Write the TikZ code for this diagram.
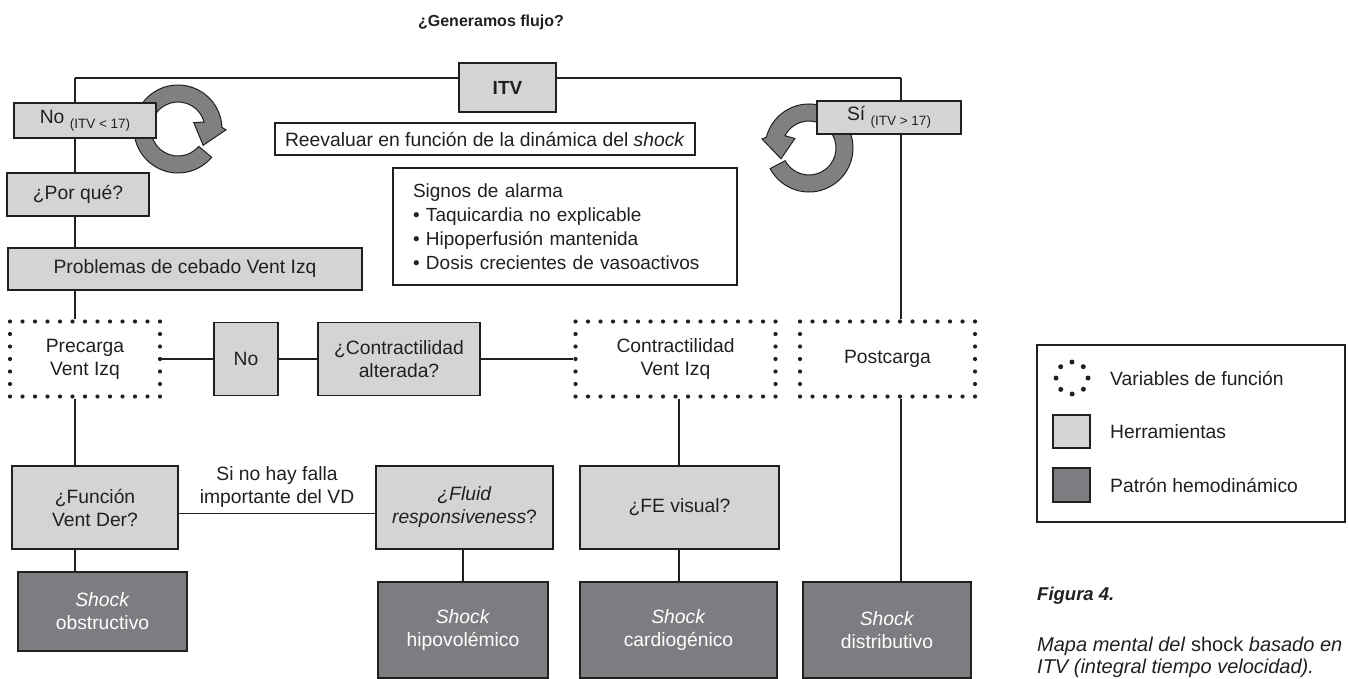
\documentclass[tikz,border=0pt]{standalone}
\usepackage{fontspec}
\setmainfont{Liberation Sans}
\usetikzlibrary{positioning, arrows.meta, backgrounds}

\definecolor{toolgray}{HTML}{D4D4D6}
\definecolor{patgray}{HTML}{7C7D80}
\definecolor{ringgray}{HTML}{808080}
\definecolor{inkgray}{HTML}{231F20}

\begin{document}
\begin{tikzpicture}[x=1pt, y=-1pt, >=Latex, text=inkgray,
  font=\fontsize{19.3}{23}\selectfont]

\tikzset{
  tool/.style={
    rectangle, draw=inkgray, line width=1.3pt, fill=toolgray,
    align=center, inner sep=2pt
  },
  hemo/.style={
    rectangle, draw=inkgray, line width=1.3pt, fill=patgray,
    text=white, align=center, inner sep=2pt
  },
  fvar/.style={
    rectangle, draw=inkgray, line width=4.2pt, line cap=round,
    dash pattern=on 0pt off 12.5pt, align=center, inner sep=2pt
  },
  note/.style={rectangle, draw=inkgray, line width=1.1pt, fill=white, inner sep=2pt},
  link/.style={draw=inkgray, line width=1.2pt},
  ring/.style={fill=ringgray, draw=inkgray, line width=1pt}
}

\useasboundingbox (0,0) rectangle (1349,679);

% ==========================
% Title and ITV row
% ==========================
\node[font=\fontsize{16}{19}\selectfont\bfseries] (title) at (491,22) {¿Generamos flujo?};

\node[tool, minimum width=97, minimum height=49,
  font=\fontsize{19}{23}\selectfont\bfseries] (itv) at (507.5,87.5) {ITV};

\node[tool, minimum width=142, minimum height=35] (no) at (85,120.5)
{No \raisebox{-5pt}{\fontsize{13.5}{15}\selectfont(ITV < 17)}};
\node[tool, minimum width=144, minimum height=33] (si) at (889,117.5)
{Sí \raisebox{-5pt}{\fontsize{13.5}{15}\selectfont(ITV > 17)}};

\node[note, minimum width=420, minimum height=32] (reev) at (485,139)
{Reevaluar en función de la dinámica del \textit{shock}};

\node[note, minimum width=344, minimum height=117, text width=304, inner xsep=20pt,
  align=left, font=\fontsize{19}{24}\selectfont] (alarma) at (565,226.5)
{Signos de alarma\\
\textbullet\ Taquicardia no explicable\\
\textbullet\ Hipoperfusión mantenida\\
\textbullet\ Dosis crecientes de vasoactivos};

% ==========================
% Left column
% ==========================
\node[tool, minimum width=142, minimum height=43] (porque) at (78,194.5) {¿Por qué?};
\node[tool, minimum width=354, minimum height=42] (cebado) at (185,269)
{Problemas de cebado Vent Izq};

% ==========================
% Function variables row
% ==========================
\node[fvar, minimum width=150, minimum height=75] (precarga) at (85,359) {Precarga\\Vent Izq};
\node[tool, minimum width=64, minimum height=73] (nobox) at (246,359) {No};
\node[tool, minimum width=162, minimum height=73] (contalt) at (399,359)
{¿Contractilidad\\alterada?};
\node[fvar, minimum width=200, minimum height=75] (contvi) at (675.5,359)
{Contractilidad\\Vent Izq};
\node[fvar, minimum width=175, minimum height=75] (postc) at (887.5,359) {Postcarga};

% ==========================
% Tools and patterns
% ==========================
\node[tool, minimum width=166, minimum height=83] (funcion) at (95,507.5) {¿Función\\Vent Der?};
\node[tool, minimum width=177, minimum height=83] (fluid) at (464.5,507.5)
{\textit{¿Fluid}\\\textit{responsiveness}?};
\node[tool, minimum width=199, minimum height=83] (fevis) at (679.5,507.5) {¿FE visual?};

\node[hemo, minimum width=169, minimum height=79] (obstr) at (102.5,611.5) {\textit{Shock}\\obstructivo};
\node[hemo, minimum width=170, minimum height=96] (hipo) at (463,630) {\textit{Shock}\\hipovolémico};
\node[hemo, minimum width=197, minimum height=96] (cardio) at (678.5,630) {\textit{Shock}\\cardiogénico};
\node[hemo, minimum width=168, minimum height=96] (distr) at (887,630) {\textit{Shock}\\distributivo};

% ==========================
% Legend and caption
% ==========================
\node[note, minimum width=308, minimum height=177] (legend) at (1191,433.5) {};
\node[fvar, circle, minimum size=32, inner sep=0pt, line width=5pt,
  dash pattern=on 0pt off 12.566pt] (legvar) at (1072,378) {};
\node[tool, minimum width=37, minimum height=33] (legtool) at (1071.5,431.5) {};
\node[hemo, minimum width=37, minimum height=34] (leghemo) at (1071.5,485) {};
\node[anchor=west, inner xsep=0pt] (legvartxt) at (1110,378) {Variables de función};
\node[anchor=west, inner xsep=0pt] (legtooltxt) at (1110,432) {Herramientas};
\node[anchor=west, inner xsep=0pt] (leghemotxt) at (1110,485) {Patrón hemodinámico};

\node[anchor=west, inner sep=0pt, font=\fontsize{18.5}{22}\selectfont\bfseries\itshape]
  (figlabel) at (1037,596) {Figura 4.};
\node[anchor=north west, inner sep=0pt, align=left,
  font=\fontsize{20}{22}\selectfont\itshape] (figcap) at (1037,637)
{Mapa mental del \textup{shock} basado en\\ITV (integral tiempo velocidad).};

% ==========================
% Connectors and loop arrows
% ==========================
\coordinate (tl) at (75,78);
\coordinate (tr) at (901,78);
\coordinate (flcol) at (463,0);
\coordinate (fecol) at (679,0);

\begin{scope}[on background layer]
  \draw[link] (tl) -- (tr);
  \draw[link] (tl) -- (precarga.north -| tl);
  \draw[link] (tr) -- (postc.north -| tr);

  \draw[link] (precarga.east) -- (nobox.west);
  \draw[link] (nobox.east) -- (contalt.west);
  \draw[link] (contalt.east) -- (contvi.west);

  \draw[link] (precarga.south -| tl) -- (funcion.north -| tl);
  \draw[link] (funcion.south -| tl) -- (obstr.north -| tl);
  \draw[link] ([yshift=-6pt]funcion.east) --
    node[above=2pt, align=center] (vdlabel) {Si no hay falla\\importante del VD}
    ([yshift=-6pt]fluid.west);
  \draw[link] (fluid.south -| flcol) -- (hipo.north -| flcol);
  \draw[link] (contvi.south -| fecol) -- (fevis.north -| fecol);
  \draw[link] (fevis.south -| fecol) -- (cardio.north -| fecol);
  \draw[link] (postc.south -| tr) -- (distr.north -| tr);

  % reevaluation loops
  \begin{scope}[shift={(178,129)}]
    \filldraw[ring] (40:44) arc[start angle=40, end angle=358, radius=44]
      -- (1:48) -- (33:30) -- (-22:17) -- (345:27)
      arc[start angle=345, end angle=40, radius=27] -- cycle;
  \end{scope}
  \begin{scope}[shift={(809,148)}]
    \filldraw[ring] (152:44) arc[start angle=152, end angle=-166, radius=44]
      -- (191:48) -- (159:30) -- (214:17) -- (207:27)
      arc[start angle=207, end angle=512, radius=27] -- cycle;
  \end{scope}
\end{scope}

\end{tikzpicture}
\end{document}
